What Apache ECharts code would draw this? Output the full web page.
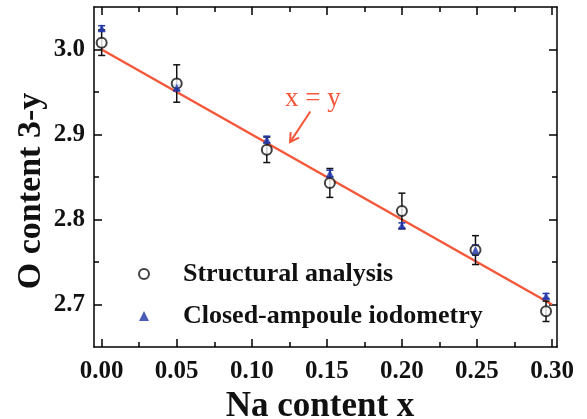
<!DOCTYPE html>
<html>
<head>
<meta charset="utf-8">
<script src="https://cdn.jsdelivr.net/npm/echarts@6/dist/echarts.min.js"></script>
<style>
html,body{margin:0;padding:0;background:#fff;}
#chart{width:587px;height:419px;}
</style>
</head>
<body>
<div id="chart"></div>
<script>
// ---- data ----
const naContent = [0.00, 0.05, 0.11, 0.152, 0.20, 0.249, 0.296];
const structural = [3.008, 2.960, 2.882, 2.843, 2.810, 2.764, 2.692];
const structuralErr = [0.015, 0.022, 0.015, 0.017, 0.021, 0.017, 0.012];
const iodometry = [3.025, 2.955, 2.894, 2.854, 2.793, 2.764, 2.710];
const iodometryErr = [0.003, 0.003, 0.004, 0.004, 0.003, 0.006, 0.003];
const fitX = [0.00, 0.30];
const fitY = [3.00, 2.70];
const xTicks = [0.00, 0.05, 0.10, 0.15, 0.20, 0.25, 0.30];
const xMinorTicks = [0.025, 0.075, 0.125, 0.175, 0.225, 0.275];
const yTicks = [2.7, 2.8, 2.9, 3.0];
const yMinorTicks = [2.75, 2.85, 2.95];
const seriesNames = ['Structural analysis', 'Closed-ampoule iodometry'];
const xTitle = 'Na content x';
const yTitle = 'O content 3-y';
const annotText = 'x = y';
const annotTextPos = [0.1222, 2.926];
const arrowFrom = [0.139, 2.927];
const arrowTo = [0.1255, 2.891];

// ---- styling ----
const X_MIN = -0.0051, X_MAX = 0.3033, Y_MIN = 2.650, Y_MAX = 3.050;
const FONT = '"Liberation Serif", "Times New Roman", serif';
const RED = '#f4573a';
const BLUE = '#1f35a8';

function xAxisDef(position, values, len, showLine, showLabel) {
  return {
    type: 'value', position: position, min: X_MIN, max: X_MAX, gridIndex: 0,
    axisLine: {show: showLine, onZero: false, lineStyle: {color: '#000', width: 1.5}},
    axisTick: {show: true, inside: true, length: len, customValues: values, lineStyle: {color: '#000', width: 1.5}},
    axisLabel: showLabel ? {show: true, customValues: values, formatter: v => Number(v).toFixed(2),
      fontFamily: FONT, fontWeight: 'bold', fontSize: 25, color: '#111', margin: 12} : {show: false},
    splitLine: {show: false}, minorTick: {show: false}
  };
}
function yAxisDef(position, values, len, showLine, showLabel) {
  return {
    type: 'value', position: position, min: Y_MIN, max: Y_MAX, gridIndex: 0,
    axisLine: {show: showLine, onZero: false, lineStyle: {color: '#000', width: 1.5}},
    axisTick: {show: true, inside: true, length: len, customValues: values, lineStyle: {color: '#000', width: 1.5}},
    axisLabel: showLabel ? {show: true, customValues: values, formatter: v => Number(v).toFixed(1),
      fontFamily: FONT, fontWeight: 'bold', fontSize: 25, color: '#111', margin: 9} : {show: false},
    splitLine: {show: false}, minorTick: {show: false}
  };
}

function errorBarRenderer(color) {
  return function (params, api) {
    const x = api.value(0), lo = api.value(1), hi = api.value(2);
    const pLo = api.coord([x, lo]);
    const pHi = api.coord([x, hi]);
    const hw = 3.5;
    const st = {stroke: color, lineWidth: 1.5};
    return {
      type: 'group',
      children: [
        {type: 'line', shape: {x1: pLo[0], y1: pLo[1], x2: pHi[0], y2: pHi[1]}, style: st},
        {type: 'line', shape: {x1: pLo[0] - hw, y1: pLo[1], x2: pLo[0] + hw, y2: pLo[1]}, style: st},
        {type: 'line', shape: {x1: pHi[0] - hw, y1: pHi[1], x2: pHi[0] + hw, y2: pHi[1]}, style: st}
      ]
    };
  };
}

const chart = echarts.init(document.getElementById('chart'), null, {renderer: 'canvas'});
chart.setOption({
  animation: false,
  backgroundColor: '#ffffff',
  grid: {left: 94, right: 30, top: 7, bottom: 72, containLabel: false},
  xAxis: [
    xAxisDef('bottom', xTicks, 8, true, true),
    xAxisDef('bottom', xMinorTicks, 5, false, false),
    xAxisDef('top', xTicks, 8, true, false),
    xAxisDef('top', xMinorTicks, 5, false, false)
  ],
  yAxis: [
    yAxisDef('left', yTicks, 8, true, true),
    yAxisDef('left', yMinorTicks, 5, false, false),
    yAxisDef('right', yTicks, 8, true, false),
    yAxisDef('right', yMinorTicks, 5, false, false)
  ],
  legend: {
    data: seriesNames,
    orient: 'vertical',
    left: 138, top: 261, padding: 0,
    itemWidth: 10, itemHeight: 10, itemGap: 16,
    textStyle: {fontFamily: FONT, fontWeight: 'bold', fontSize: 26, color: '#111', lineHeight: 26, padding: [0, 0, 0, 29]}
  },
  graphic: [
    {type: 'text', x: 320, y: 407, style: {text: xTitle, font: 'bold 35px ' + FONT, fill: '#111', align: 'center', verticalAlign: 'middle'}},
    {type: 'text', x: 31, y: 191, rotation: Math.PI / 2, style: {text: yTitle, font: 'bold 34px ' + FONT, fill: '#111', align: 'center', verticalAlign: 'middle'}}
  ],
  series: [
    {
      type: 'line', name: 'fit', data: fitX.map((x, i) => [x, fitY[i]]),
      showSymbol: false, symbol: 'none', lineStyle: {color: RED, width: 2.5}, z: 1, silent: true
    },
    {
      type: 'custom', name: 'structErr', data: naContent.map((x, i) => [x, structural[i] - structuralErr[i], structural[i] + structuralErr[i]]),
      renderItem: errorBarRenderer('#111'), z: 2, silent: true, clip: false
    },
    {
      type: 'custom', name: 'iodoErr', data: naContent.map((x, i) => [x, iodometry[i] - iodometryErr[i], iodometry[i] + iodometryErr[i]]),
      renderItem: errorBarRenderer(BLUE), z: 3, silent: true, clip: false
    },
    {
      type: 'scatter', name: seriesNames[0], data: naContent.map((x, i) => [x, structural[i]]),
      symbol: 'emptyCircle', symbolSize: 10, itemStyle: {color: '#111', borderWidth: 1.2}, z: 4
    },
    {
      type: 'scatter', name: seriesNames[1], data: naContent.map((x, i) => [x, iodometry[i]]),
      symbol: 'triangle', symbolSize: 8, itemStyle: {color: BLUE}, z: 5
    },
    {
      type: 'custom', name: 'annot', data: [[arrowFrom[0], arrowFrom[1], arrowTo[0], arrowTo[1], annotTextPos[0], annotTextPos[1]]],
      z: 6, silent: true, clip: false,
      renderItem: function (params, api) {
        const a = api.coord([api.value(0), api.value(1)]);
        const b = api.coord([api.value(2), api.value(3)]);
        const t = api.coord([api.value(4), api.value(5)]);
        const ang = Math.atan2(b[1] - a[1], b[0] - a[0]);
        const hl = 10, spread = Math.PI / 6;
        const h1 = [b[0] - hl * Math.cos(ang - spread), b[1] - hl * Math.sin(ang - spread)];
        const h2 = [b[0] - hl * Math.cos(ang + spread), b[1] - hl * Math.sin(ang + spread)];
        const st = {stroke: RED, lineWidth: 2, fill: null};
        return {
          type: 'group',
          children: [
            {type: 'line', shape: {x1: a[0], y1: a[1], x2: b[0], y2: b[1]}, style: st},
            {type: 'polyline', shape: {points: [h1, b, h2]}, style: st},
            {type: 'text', x: t[0], y: t[1], style: {text: annotText, font: '27px ' + FONT, fill: RED, align: 'left', verticalAlign: 'bottom'}}
          ]
        };
      }
    }
  ]
});
</script>
</body>
</html>
